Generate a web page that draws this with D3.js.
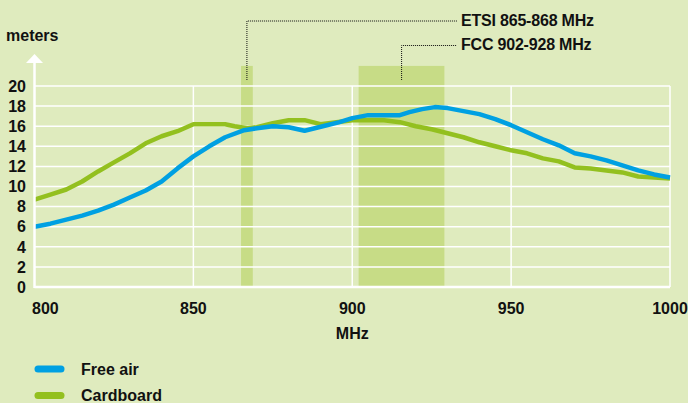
<!DOCTYPE html>
<html>
<head>
<meta charset="utf-8">
<script src="https://cdn.jsdelivr.net/npm/d3@7"></script>
<style>
  html, body { margin: 0; padding: 0; background: #dfebbe; }
  svg { display: block; font-family: "Liberation Sans", Arial, sans-serif; font-weight: bold; }
</style>
</head>
<body>
<svg id="chart" width="688" height="403"></svg>
<script>
// --------------------------
// DATA
// --------------------------
const freqFree = [800, 805, 810, 815, 820, 825, 830, 835, 840, 845, 850, 855, 860, 866, 870, 875, 880, 885, 892, 896, 900, 905, 915, 918, 922, 926, 930, 935, 940, 945, 950, 955, 960, 965, 970, 975, 980, 985, 990, 995, 1000];
const freeAir = [6.0, 6.3, 6.7, 7.1, 7.6, 8.2, 8.9, 9.6, 10.5, 11.8, 13.0, 14.0, 14.9, 15.6, 15.8, 16.0, 15.9, 15.55, 16.1, 16.4, 16.8, 17.1, 17.1, 17.4, 17.7, 17.9, 17.8, 17.5, 17.2, 16.7, 16.1, 15.4, 14.7, 14.1, 13.3, 13.0, 12.6, 12.1, 11.6, 11.2, 10.9];

const freqCard = [800, 805, 810, 815, 820, 825, 830, 835, 840, 845, 850, 855, 860, 863, 867, 870, 875, 880, 885, 890, 895, 900, 905, 910, 915, 920, 925, 930, 935, 940, 945, 950, 955, 960, 965, 970, 975, 980, 985, 990, 995, 1000];
const cardboard = [8.7, 9.2, 9.7, 10.5, 11.5, 12.4, 13.3, 14.3, 15.0, 15.5, 16.2, 16.2, 16.2, 16.0, 15.8, 15.9, 16.3, 16.6, 16.6, 16.2, 16.4, 16.6, 16.6, 16.6, 16.4, 16.0, 15.7, 15.3, 14.9, 14.4, 14.0, 13.6, 13.3, 12.8, 12.5, 11.9, 11.8, 11.6, 11.4, 11.0, 10.9, 10.8];

const xTicks = [800, 850, 900, 950, 1000];
const yTicks = [0, 2, 4, 6, 8, 10, 12, 14, 16, 18, 20];

const bandNames = ["ETSI 865-868 MHz", "FCC 902-928 MHz"];
const bandStart = [865, 902];
const bandEnd = [868.7, 929];
const bandTop = 22;

const seriesNames = ["Free air", "Cardboard"];
const seriesColors = ["#00a0e2", "#93c01f"];

// --------------------------
// CHART
// --------------------------
const svg = d3.select("#chart");
const width = +svg.attr("width");
const height = +svg.attr("height");
const margin = { top: 86, right: 18, bottom: 116, left: 34.5 };

const x = d3.scaleLinear()
    .domain([800, 1000])
    .range([margin.left, width - margin.right]);

const y = d3.scaleLinear()
    .domain([0, 20])
    .range([height - margin.bottom, margin.top]);

// background
svg.append("rect")
    .attr("width", width)
    .attr("height", height)
    .attr("fill", "#dfebbe");

// bands
svg.append("g")
    .selectAll("rect")
    .data(bandNames)
    .enter()
    .append("rect")
    .attr("x", (d, i) => x(bandStart[i]))
    .attr("y", y(bandTop))
    .attr("width", (d, i) => x(bandEnd[i]) - x(bandStart[i]))
    .attr("height", y(0) - y(bandTop))
    .attr("fill", "#c7dc86");

// grid
svg.append("g")
    .selectAll("line")
    .data(yTicks.slice(1))
    .enter()
    .append("line")
    .attr("x1", x(800))
    .attr("x2", x(1000))
    .attr("y1", d => y(d))
    .attr("y2", d => y(d))
    .attr("stroke", "#fff")
    .attr("stroke-width", 1.5);

svg.append("g")
    .selectAll("line")
    .data(xTicks.slice(1))
    .enter()
    .append("line")
    .attr("x1", d => x(d))
    .attr("x2", d => x(d))
    .attr("y1", y(20))
    .attr("y2", y(0))
    .attr("stroke", "#fff")
    .attr("stroke-width", 1.5);

// lines
const line = d3.line()
    .x(d => x(d[0]))
    .y(d => y(d[1]));

const seriesData = [
    d3.zip(freqFree, freeAir),
    d3.zip(freqCard, cardboard)
];

svg.append("g")
    .selectAll("path")
    .data([1, 0])
    .enter()
    .append("path")
    .attr("d", i => line(seriesData[i]))
    .attr("fill", "none")
    .attr("stroke", i => seriesColors[i])
    .attr("stroke-width", 4.5)
    .attr("stroke-linejoin", "round");

// axes (white)
svg.append("line")
    .attr("x1", x(800))
    .attr("x2", x(1000))
    .attr("y1", y(0))
    .attr("y2", y(0))
    .attr("stroke", "#fff")
    .attr("stroke-width", 2.5);

svg.append("line")
    .attr("x1", x(800))
    .attr("x2", x(800))
    .attr("y1", y(0) + 1)
    .attr("y2", 60)
    .attr("stroke", "#fff")
    .attr("stroke-width", 2.5);

svg.append("path")
    .attr("d", `M${x(800) - 8.5},63 L${x(800)},54 L${x(800) + 8.5},63 Z`)
    .attr("fill", "#fff");

// tick labels
svg.append("g")
    .selectAll("text")
    .data(yTicks)
    .enter()
    .append("text")
    .attr("x", 26)
    .attr("y", d => y(d))
    .attr("dy", "0.36em")
    .attr("text-anchor", "end")
    .attr("font-size", 16)
    .attr("fill", "#111")
    .text(d => d);

svg.append("g")
    .selectAll("text")
    .data(xTicks)
    .enter()
    .append("text")
    .attr("x", (d, i) => i === 0 ? x(d) - 2.5 : x(d))
    .attr("y", 308)
    .attr("dy", "0.36em")
    .attr("text-anchor", (d, i) => i === 0 ? "start" : "middle")
    .attr("font-size", 16)
    .attr("fill", "#111")
    .text(d => d);

svg.append("text")
    .attr("x", (x(800) + x(1000)) / 2)
    .attr("y", 333)
    .attr("dy", "0.36em")
    .attr("text-anchor", "middle")
    .attr("font-size", 16)
    .attr("fill", "#111")
    .text("MHz");

svg.append("text")
    .attr("x", 6)
    .attr("y", 35)
    .attr("dy", "0.36em")
    .attr("font-size", 16)
    .attr("fill", "#111")
    .text("meters");

// band annotations
const labelY = [20, 44.5];
const labelX = 461;

bandNames.forEach((name, i) => {
    const cx = i === 0 ? (x(bandStart[i]) + x(bandEnd[i])) / 2 : x(bandStart[i]) + 43;
    svg.append("path")
        .attr("d", `M${cx},80 V${labelY[i] + 1} H${labelX - 4}`)
        .attr("fill", "none")
        .attr("stroke", "#111")
        .attr("stroke-width", 1)
        .attr("stroke-dasharray", "1,1");

    svg.append("text")
        .attr("x", labelX)
        .attr("y", labelY[i])
        .attr("dy", "0.36em")
        .attr("font-size", 16)
        .attr("letter-spacing", -0.2)
        .attr("fill", "#111")
        .text(name);
});

// legend
const legend = svg.append("g")
    .selectAll("g")
    .data(seriesNames)
    .enter()
    .append("g")
    .attr("transform", (d, i) => `translate(0,${369 + i * 26.5})`);

legend.append("line")
    .attr("x1", 38)
    .attr("x2", 61)
    .attr("stroke", (d, i) => seriesColors[i])
    .attr("stroke-width", 7)
    .attr("stroke-linecap", "round");

legend.append("text")
    .attr("x", 81)
    .attr("dy", "0.36em")
    .attr("font-size", 16)
    .attr("fill", "#111")
    .text(d => d);
</script>
</body>
</html>
